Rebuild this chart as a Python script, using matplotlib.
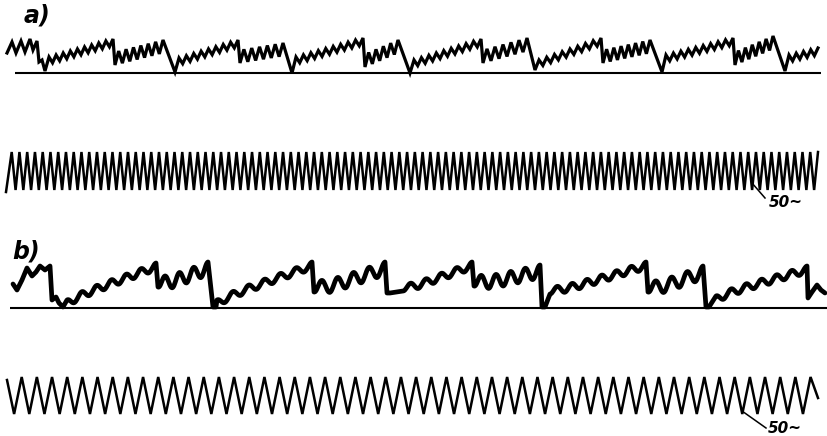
import numpy as np
import matplotlib
matplotlib.use("Agg")
import matplotlib.pyplot as plt

W, H = 827, 436

# ---------------- trace a) readings (pixel units, y grows downward) ----------------
a_base_y = 73
a_base_x = [15, 821]
a_lead_x = [7, 12, 16, 21, 25, 30, 33, 37, 39, 42, 45]
a_lead_y = [53, 42, 53, 41, 52, 39, 50, 41, 62, 60, 71]
a_low_x = [45, 175, 292, 410, 535, 662, 785]        # trace touches the baseline
a_low_y = [71, 72, 73, 73, 70, 72, 71]
a_rise_y = [57, 58, 57, 60, 60, 55]                  # first ripple crest after the low
a_mid_x = [113, 238, 363, 481, 601, 733]             # drop to the middle level
a_top1_y = [39, 40, 38, 39, 38, 38]                  # level just before that drop
a_mid_y = [65, 63, 67, 63, 63, 65]                   # level right after the drop
a_top2_x = [163, 283, 398, 527, 650, 773]            # crest before the fall to baseline
a_top2_y = [40, 43, 40, 38, 40, 36]
a_tail_x = [818]
a_tail_y = [48]
a_tail_rise_y = [55]
a_ripple_period = 7.75
a_ripple_small = 3.4
a_ripple_large = 6.5

# ---------------- timing wave under a) (50 Hz) ----------------
a_t_start = (6, 192)
a_t_first_peak_x = 11.7
a_t_last_peak_x = 818
a_t_peaks = 105
a_t_peak_y = 152
a_t_trough_y = 190

# ---------------- trace b) readings ----------------
b_base_y = 308
b_base_x = [10, 827]
b_lead_x = [13, 17, 22, 27, 32, 36, 40, 45, 50, 52, 56, 59, 63]
b_lead_y = [284, 290, 280, 268, 276, 272, 266, 270, 266, 300, 297, 303, 307]
b_low_x = [63, 213, 387, 542, 706]                   # falls (to baseline or near it)
b_low_y = [307, 307, 293, 307, 307]
b_start1_y = [300, 300, 291, 294, 296]               # level where slow rise begins
b_flat_len = [0, 0, 12, 4, 6]                        # flat bottom after the fall
b_mid_x = [156, 312, 472, 646, 807]                  # drop to the middle level
b_top1_y = [263, 262, 262, 262, 266]
b_mid_y = [287, 292, 286, 292, 298]
b_top2_x = [208, 385, 540, 703]
b_top2_y = [262, 262, 265, 266]
b_end = (825, 293)
b_wave_period = 15.2
b_wave_small = 3.6
b_wave_large = 6.5

# ---------------- timing wave under b) ----------------
b_t_start = (7, 380)
b_t_first_peak_x = 21.7
b_t_peaks = 53
b_t_period = 15.17
b_t_peak_y = 377
b_t_trough_y = 414
b_t_end = (818, 398)

labels = ["a)", "b)"]
label_xy = [(24, 15), (12, 251)]
freq_text = "50~"
freq_leader = [((752, 183), (765, 198)), ((742, 411), (766, 428))]
freq_text_xy = [(769, 202), (768, 428)]


def zigzag(x0, mean0, x1, y1, amp, period, start_peak):
    """vertices alternating about a straight mean line, ending with a crest at (x1, y1)"""
    n = max(1, int(round((x1 - x0) / (period / 2.0))))
    if start_peak and n % 2 == 1:
        n += 1
    if (not start_peak) and n % 2 == 0:
        n += 1
    xs = np.linspace(x0, x1, n + 1)
    mean1 = y1 + amp
    m0 = mean0 + amp if start_peak else mean0 - amp
    means = np.linspace(m0, mean1, n + 1)
    sign = np.array([(-1 if (n - k) % 2 == 0 else 1) for k in range(n + 1)])
    return list(xs), list(means + sign * amp)


def smooth_wave(x0, y0, x1, y1, amp, period):
    """smooth wavy line from (x0,y0) to (x1,y1), ending on a crest"""
    n_half = max(1, int(round((x1 - x0) / (period / 2.0))))
    xs = np.linspace(x0, x1, 12 * n_half + 1)
    t = (xs - x0) / (x1 - x0)
    mean = y0 + (y1 + amp - y0) * t
    phase = np.pi * n_half * (1 - t)
    ys = mean - amp * np.cos(phase)
    ys = ys + (amp * np.cos(np.pi * n_half)) * (1 - t) ** 8
    return list(xs), list(ys)


# ---------- build trace a ----------
ax_pts_x = list(a_lead_x)
ax_pts_y = list(a_lead_y)
for i in range(len(a_mid_x)):
    lx, ly = a_low_x[i], a_low_y[i]
    if i > 0:
        ax_pts_x.append(lx)
        ax_pts_y.append(ly)
    xs, ys = zigzag(lx + 4, a_rise_y[i], a_mid_x[i], a_top1_y[i],
                    a_ripple_small, a_ripple_period, True)
    ax_pts_x += xs
    ax_pts_y += ys
    xs, ys = zigzag(a_mid_x[i] + 2, a_mid_y[i], a_top2_x[i], a_top2_y[i],
                    a_ripple_large, a_ripple_period, False)
    ax_pts_x += xs
    ax_pts_y += ys
ax_pts_x.append(a_low_x[-1])
ax_pts_y.append(a_low_y[-1])
xs, ys = zigzag(a_low_x[-1] + 4, a_tail_rise_y[0], a_tail_x[0], a_tail_y[0],
                a_ripple_small, a_ripple_period, True)
ax_pts_x += xs
ax_pts_y += ys

# ---------- timing a ----------
at_x = [a_t_start[0]]
at_y = [a_t_start[1]]
a_t_period = (a_t_last_peak_x - a_t_first_peak_x) / (a_t_peaks - 1)
for k in range(a_t_peaks):
    px = a_t_first_peak_x + k * a_t_period
    if k > 0:
        at_x.append(px - a_t_period / 2)
        at_y.append(a_t_trough_y)
    at_x.append(px)
    at_y.append(a_t_peak_y)

# ---------- build trace b ----------
bx = list(b_lead_x)
by = list(b_lead_y)
for i in range(len(b_low_x)):
    lx, ly = b_low_x[i], b_low_y[i]
    if i > 0:
        bx.append(lx)
        by.append(ly)
        bx.append(lx + 3)
        by.append(b_base_y - 1 if ly > 300 else ly)
    s0 = lx + 4 + b_flat_len[i]
    if b_flat_len[i]:
        bx.append(s0)
        by.append(b_start1_y[i])
    xs, ys = smooth_wave(s0, b_start1_y[i], b_mid_x[i], b_top1_y[i],
                         b_wave_small, b_wave_period)
    bx += xs
    by += ys
    if i < len(b_top2_x):
        xs, ys = smooth_wave(b_mid_x[i] + 2, b_mid_y[i], b_top2_x[i], b_top2_y[i],
                             b_wave_large, b_wave_period)
        bx += xs
        by += ys
    else:
        bx += [b_mid_x[i] + 1, 812, 817, 821, b_end[0]]
        by += [b_mid_y[i], 292, 285, 290, b_end[1]]

# ---------- timing b ----------
bt_x = [b_t_start[0]]
bt_y = [b_t_start[1]]
for k in range(b_t_peaks):
    px = b_t_first_peak_x + k * b_t_period
    bt_x.append(px - b_t_period / 2)
    bt_y.append(b_t_trough_y)
    bt_x.append(px)
    bt_y.append(b_t_peak_y)
bt_x.append(b_t_end[0])
bt_y.append(b_t_end[1])

# ---------------- draw ----------------
fig = plt.figure(figsize=(W / 100, H / 100), dpi=100)
ax = fig.add_axes([0, 0, 1, 1])
ax.set_xlim(0, W)
ax.set_ylim(H, 0)
ax.axis("off")

ink = "black"
ax.plot(a_base_x, [a_base_y, a_base_y], color=ink, lw=1.5, solid_capstyle="butt")
ax.plot(b_base_x, [b_base_y, b_base_y], color=ink, lw=1.5, solid_capstyle="butt")
ax.plot(ax_pts_x, ax_pts_y, color=ink, lw=2.3, solid_joinstyle="miter")
ax.plot(at_x, at_y, color=ink, lw=1.8, solid_joinstyle="miter")
ax.plot(bx, by, color=ink, lw=3.4, solid_joinstyle="round", solid_capstyle="round")
ax.plot(bt_x, bt_y, color=ink, lw=1.8, solid_joinstyle="miter")

for lab, (x, y) in zip(labels, label_xy):
    ax.text(x, y, lab, fontsize=17, fontstyle="italic", fontweight="bold",
            ha="left", va="center", color=ink, family="DejaVu Sans")

for (p0, p1), (tx, ty) in zip(freq_leader, freq_text_xy):
    ax.plot([p0[0], p1[0]], [p0[1], p1[1]], color=ink, lw=1.1)
    ax.text(tx, ty, freq_text, fontsize=11, fontstyle="italic", fontweight="bold",
            ha="left", va="center", color=ink, family="DejaVu Sans")

fig.savefig("out.png", dpi=100, facecolor="white")
